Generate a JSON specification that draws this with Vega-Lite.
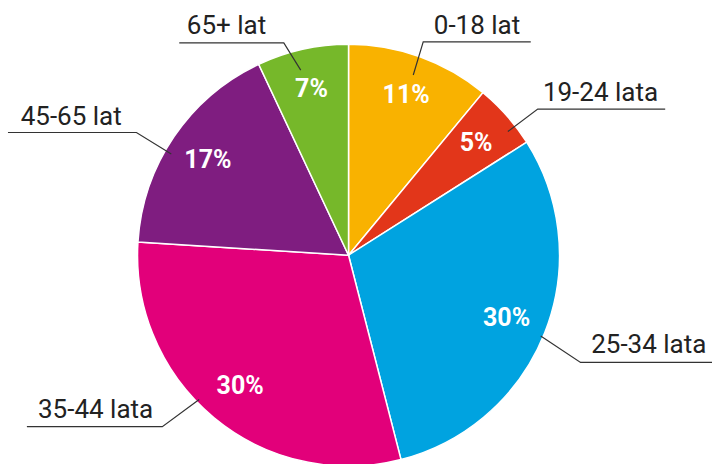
{
  "$schema": "https://vega.github.io/schema/vega-lite/v6.json",
  "width": 715,
  "height": 464,
  "autosize": {"type": "fit", "contains": "padding"},
  "padding": 0,
  "background": "white",
  "view": {"stroke": null},
  "config": {"font": "Roboto"},
  "datasets": {
    "slices": [
      {"group": "0-18 lat", "value": 11, "pct": "11%", "order": 1},
      {"group": "19-24 lata", "value": 5, "pct": "5%", "order": 2},
      {"group": "25-34 lata", "value": 30, "pct": "30%", "order": 3},
      {"group": "35-44 lata", "value": 30, "pct": "30%", "order": 4},
      {"group": "45-65 lat", "value": 17, "pct": "17%", "order": 5},
      {"group": "65+ lat", "value": 7, "pct": "7%", "order": 6}
    ],
    "leaders": [
      {"group": "0-18 lat", "seq": 1, "x": 65, "y": -185},
      {"group": "0-18 lat", "seq": 2, "x": 75, "y": -219},
      {"group": "0-18 lat", "seq": 3, "x": 183, "y": -219},
      {"group": "19-24 lata", "seq": 1, "x": 160, "y": -127},
      {"group": "19-24 lata", "seq": 2, "x": 190, "y": -150},
      {"group": "19-24 lata", "seq": 3, "x": 318, "y": -150},
      {"group": "25-34 lata", "seq": 1, "x": 193, "y": 83},
      {"group": "25-34 lata", "seq": 2, "x": 233, "y": 110},
      {"group": "25-34 lata", "seq": 3, "x": 365, "y": 110},
      {"group": "35-44 lata", "seq": 1, "x": -150, "y": 148},
      {"group": "35-44 lata", "seq": 2, "x": -187, "y": 176},
      {"group": "35-44 lata", "seq": 3, "x": -323, "y": 176},
      {"group": "45-65 lat", "seq": 1, "x": -178, "y": -104},
      {"group": "45-65 lat", "seq": 2, "x": -213, "y": -126},
      {"group": "45-65 lat", "seq": 3, "x": -342, "y": -126},
      {"group": "65+ lat", "seq": 1, "x": -48, "y": -190},
      {"group": "65+ lat", "seq": 2, "x": -65, "y": -218},
      {"group": "65+ lat", "seq": 3, "x": -170, "y": -218}
    ],
    "labels": [
      {"group": "0-18 lat", "x": 129, "y": -227},
      {"group": "19-24 lata", "x": 253, "y": -158},
      {"group": "25-34 lata", "x": 301.5, "y": 100},
      {"group": "35-44 lata", "x": -254, "y": 167},
      {"group": "45-65 lat", "x": -278.5, "y": -134},
      {"group": "65+ lat", "x": -122.5, "y": -227}
    ]
  },
  "layer": [
    {
      "data": {"name": "slices"},
      "mark": {"type": "arc", "outerRadius": 211, "stroke": "white", "strokeWidth": 1.5},
      "encoding": {
        "x": {"datum": 0, "type": "quantitative", "scale": {"domain": [-350, 365], "nice": false, "zero": false}, "axis": null},
        "y": {"datum": 0, "type": "quantitative", "scale": {"domain": [-262, 202], "nice": false, "zero": false, "reverse": true}, "axis": null},
        "theta": {"field": "value", "type": "quantitative", "stack": true},
        "order": {"field": "order", "type": "quantitative"},
        "color": {
          "field": "group", "type": "nominal",
          "scale": {
            "domain": ["0-18 lat", "19-24 lata", "25-34 lata", "35-44 lata", "45-65 lat", "65+ lat"],
            "range": ["#F9B200", "#E2361A", "#00A3E0", "#E2007A", "#7F1D80", "#76B82A"]
          },
          "legend": null
        }
      }
    },
    {
      "data": {"name": "slices"},
      "mark": {"type": "text", "radius": 170, "color": "white", "fontSize": 25, "fontWeight": "bold", "align": "center", "baseline": "middle"},
      "encoding": {
        "x": {"datum": 0, "type": "quantitative"},
        "y": {"datum": 0, "type": "quantitative"},
        "theta": {"field": "value", "type": "quantitative", "stack": true},
        "order": {"field": "order", "type": "quantitative"},
        "detail": {"field": "group", "type": "nominal"},
        "text": {"field": "pct", "type": "nominal"}
      }
    },
    {
      "data": {"name": "leaders"},
      "mark": {"type": "line", "color": "#333333", "strokeWidth": 1.2},
      "encoding": {
        "x": {"field": "x", "type": "quantitative"},
        "y": {"field": "y", "type": "quantitative"},
        "detail": {"field": "group", "type": "nominal"},
        "order": {"field": "seq", "type": "quantitative"}
      }
    },
    {
      "data": {"name": "labels"},
      "mark": {"type": "text", "color": "#222222", "fontSize": 26, "align": "center", "baseline": "alphabetic"},
      "encoding": {
        "x": {"field": "x", "type": "quantitative"},
        "y": {"field": "y", "type": "quantitative"},
        "text": {"field": "group", "type": "nominal"}
      }
    }
  ]
}
